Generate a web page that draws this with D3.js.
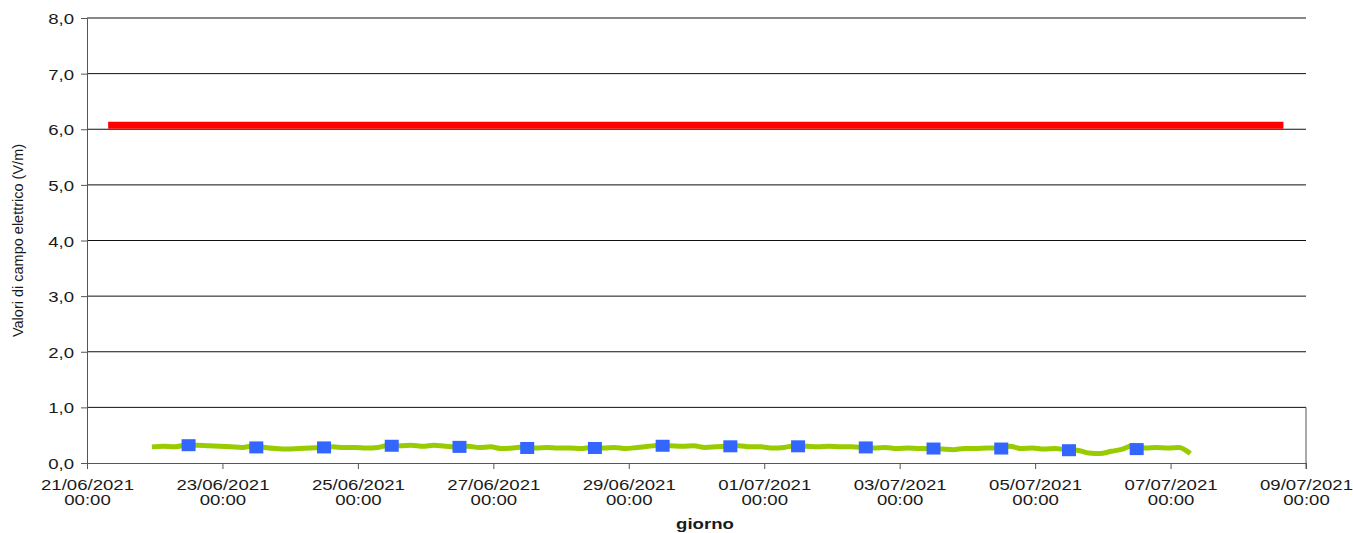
<html>
<body style="margin:0;background:#fff">
<svg width="1353" height="533"></svg>
</body>
<style>
  text { font-family: "Liberation Sans", Arial, sans-serif; fill: #1a1a1a; }
  .grid line { stroke: #111; stroke-width: 1; }
  .domain { stroke: #555; }
</style>
<script src="https://d3js.org/d3.v7.min.js"></script>
<script>
// misure di campo elettrico (V/m), un campione ogni 4 ore dal 21/06/2021 23:00
var startTime = new Date(2021, 5, 21, 23, 0);
var stepHours = 4;
var fieldValues = [
  0.29, 0.30, 0.29, 0.32, 0.32, 0.31, 0.30, 0.29, 0.28, 0.31,
  0.28, 0.26, 0.25, 0.26, 0.27, 0.28, 0.29, 0.28, 0.28, 0.27,
  0.28, 0.32, 0.31, 0.32, 0.30, 0.32, 0.30, 0.29, 0.30, 0.28,
  0.29, 0.26, 0.27, 0.29, 0.27, 0.28, 0.27, 0.27, 0.26, 0.28,
  0.27, 0.28, 0.26, 0.28, 0.30, 0.32, 0.31, 0.30, 0.31, 0.28,
  0.29, 0.30, 0.31, 0.29, 0.29, 0.27, 0.28, 0.31, 0.30, 0.29,
  0.30, 0.29, 0.29, 0.28, 0.27, 0.28, 0.26, 0.27, 0.26, 0.26,
  0.25, 0.24, 0.26, 0.26, 0.27, 0.27, 0.30, 0.26, 0.27, 0.25,
  0.26, 0.24, 0.23, 0.18, 0.17, 0.21, 0.25, 0.32, 0.27, 0.28,
  0.27, 0.28, 0.17
];

// medie giornaliere (alle 12:00)
var dailyDays = ["22/06","23/06","24/06","25/06","26/06","27/06","28/06","29/06",
                 "30/06","01/07","02/07","03/07","04/07","05/07","06/07"];
var dailyValues = [0.32, 0.28, 0.28, 0.31, 0.29, 0.27, 0.27, 0.31,
                   0.30, 0.30, 0.28, 0.26, 0.26, 0.23, 0.25];

// limite
var limitStart = new Date(2021, 5, 21, 7, 30);
var limitEnd = new Date(2021, 6, 8, 16, 0);
var limitValue = 6.07;

var yTicks = [0, 1, 2, 3, 4, 5, 6, 7, 8];

var svg = d3.select("svg");
var margin = {top: 18, right: 47, bottom: 70, left: 87},
    width = +svg.attr("width") - margin.left - margin.right,
    height = +svg.attr("height") - margin.top - margin.bottom;
var g = svg.append("g")
    .attr("transform", "translate(" + margin.left + "," + margin.top + ")");

var stretch = "scale(1.2,1)"; // il grafico originale e' allargato in orizzontale

var x = d3.scaleTime()
    .domain([new Date(2021, 5, 21), new Date(2021, 6, 9)])
    .range([0, width]);
var y = d3.scaleLinear().domain([0, 8]).range([height, 0]);

var parseDay = d3.timeParse("%d/%m/%Y %H:%M");

// griglia
g.append("g").attr("class", "grid")
  .selectAll("line").data(yTicks.slice(1)).enter().append("line")
  .attr("x1", 0).attr("x2", width)
  .attr("y1", d => y(d)).attr("y2", d => y(d));

// bordo destro
g.append("line")
  .attr("x1", width).attr("x2", width).attr("y1", y(1)).attr("y2", height + 6)
  .attr("stroke", "#555");

// assi
var yAxis = g.append("g")
  .call(d3.axisLeft(y).tickValues(yTicks).tickSize(6).tickSizeOuter(0)
    .tickFormat(d => d3.format(".1f")(d).replace(".", ",")));
yAxis.selectAll(".tick text")
  .attr("x", 0).attr("dy", "0.36em")
  .attr("transform", "translate(-13,0) " + stretch)
  .style("font-size", "15.5px");
yAxis.selectAll(".tick line").attr("stroke", "#555");

var xAxis = g.append("g")
  .attr("transform", "translate(0," + height + ")")
  .call(d3.axisBottom(x).ticks(d3.timeDay.every(2)).tickSize(6).tickSizeOuter(0)
    .tickFormat(""));
xAxis.selectAll(".tick line").attr("stroke", "#555");
xAxis.selectAll(".tick").each(function (d) {
  var t = d3.select(this).append("text")
    .attr("fill", "#1a1a1a").attr("text-anchor", "middle")
    .attr("transform", stretch)
    .style("font-size", "15.5px");
  t.append("tspan").attr("x", 0).attr("y", 27).text(d3.timeFormat("%d/%m/%Y")(d));
  t.append("tspan").attr("x", 0).attr("y", 42).text("00:00");
});

g.append("text")
  .attr("transform", "translate(" + x(new Date(2021, 5, 30, 3)) + "," + (height + 66) + ") " + stretch)
  .attr("text-anchor", "middle")
  .style("font-size", "15.5px").style("font-weight", "bold")
  .text("giorno");

svg.append("text")
  .attr("transform", "translate(23," + (margin.top + y(4)) + ") rotate(-90)")
  .attr("text-anchor", "middle")
  .style("font-family", "'Liberation Sans Narrow', 'Liberation Sans', Arial, sans-serif")
  .style("font-size", "14.5px")
  .text("Valori di campo elettrico (V/m)");

// linea limite
g.append("line")
  .attr("x1", x(limitStart)).attr("x2", x(limitEnd))
  .attr("y1", y(limitValue)).attr("y2", y(limitValue))
  .attr("stroke", "#ff0000").attr("stroke-width", 7);

// serie misure
var series = fieldValues.map(function (v, i) {
  return {t: d3.timeHour.offset(startTime, i * stepHours), v: v};
});
g.append("path")
  .datum(series)
  .attr("fill", "none")
  .attr("stroke", "#99cc00")
  .attr("stroke-width", 5)
  .attr("stroke-linejoin", "round")
  .attr("d", d3.line().x(d => x(d.t)).y(d => y(d.v)).curve(d3.curveMonotoneX));

// medie giornaliere
g.selectAll(".avg")
  .data(dailyDays.map((d, i) => ({t: parseDay(d + "/2021 12:00"), v: dailyValues[i]})))
  .enter().append("rect")
  .attr("class", "avg")
  .attr("x", d => x(d.t) - 7)
  .attr("y", d => y(d.v) - 6)
  .attr("width", 14).attr("height", 12)
  .attr("fill", "#3366ff");
</script>
</html>
